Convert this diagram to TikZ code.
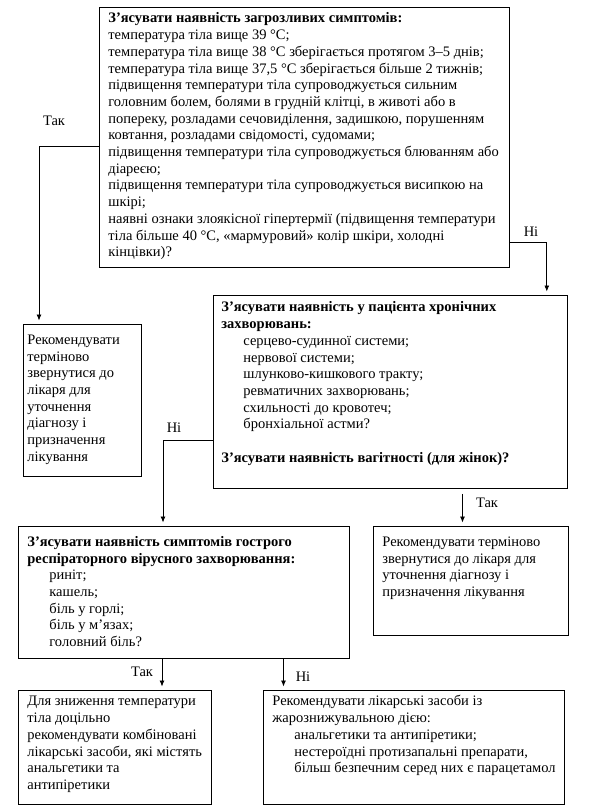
\documentclass[tikz,border=0pt]{standalone}
\usepackage{fontspec}
\setmainfont{Liberation Serif}
\usetikzlibrary{arrows.meta}
\tikzset{
  box/.style={draw, line width=0.8pt, anchor=north west, inner ysep=0pt, inner xsep=0pt,
    font=\fontsize{14.5}{16.7}\selectfont},
  lbl/.style={font=\fontsize{14.5}{16.7}\selectfont, inner sep=0pt},
  arr/.style={line width=0.8pt, -{Latex[length=6pt,width=5pt]}, shorten >=3.5pt},
}
% #1 left pad, #2 width, #3 height, #4 first baseline, #5 text
\newcommand{\bt}[5]{\hspace*{#1}\parbox[c][#3][t]{#2}{\raggedright\rule{0pt}{#4}#5}}
\newcommand{\ind}{\hspace*{22pt}}
\begin{document}
\begin{tikzpicture}[x=1pt,y=-1pt]
\useasboundingbox (0,0) rectangle (590,812);

\node[box] (top) at (99,7) {\bt{9pt}{401pt}{260pt}{15.5pt}{%
\textbf{З’ясувати наявність загрозливих симптомів:}\\
температура тіла вище 39 °С;\\
температура тіла вище 38 °С зберігається протягом 3–5 днів;\\
температура тіла вище 37,5 °С зберігається більше 2 тижнів;\\
підвищення температури тіла супроводжується сильним\\
головним болем, болями в грудній клітці, в животі або в\\
попереку, розладами сечовиділення, задишкою, порушенням\\
ковтання, розладами свідомості, судомами;\\
підвищення температури тіла супроводжується блюванням або\\
діареєю;\\
підвищення температури тіла супроводжується висипкою на\\
шкірі;\\
наявні ознаки злоякісної гіпертермії (підвищення температури\\
тіла більше 40 °С, «мармуровий» колір шкіри, холодні\\
кінцівки)?}};

\node[box] (lbox) at (23,324) {\bt{4pt}{114pt}{152pt}{20pt}{%
Рекомендувати\\терміново\\звернутися до\\лікаря для\\уточнення\\діагнозу і\\призначення\\лікування}};

\node[box] (mid) at (213,295) {\bt{8pt}{346pt}{193pt}{16.5pt}{%
\textbf{З’ясувати наявність у пацієнта хронічних}\\
\textbf{захворювань:}\\
\ind серцево-судинної системи;\\
\ind нервової системи;\\
\ind шлунково-кишкового тракту;\\
\ind ревматичних захворювань;\\
\ind схильності до кровотеч;\\
\ind бронхіальної астми?\\[16.7pt]
\textbf{З’ясувати наявність вагітності (для жінок)?}}};

\node[box] (grvi) at (18,526) {\bt{9pt}{322pt}{132pt}{20pt}{%
\textbf{З’ясувати наявність симптомів гострого}\\
\textbf{респіраторного вірусного захворювання:}\\
\ind риніт;\\
\ind кашель;\\
\ind біль у горлі;\\
\ind біль у м’язах;\\
\ind головний біль?}};

\node[box] (rbox) at (373,526) {\bt{9pt}{186pt}{109pt}{20pt}{%
Рекомендувати терміново\\звернутися до лікаря для\\уточнення діагнозу і\\призначення лікування}};

\node[box] (bl) at (18,690) {\bt{9pt}{184pt}{114pt}{15.5pt}{%
Для зниження температури\\тіла доцільно\\рекомендувати комбіновані\\лікарські засоби, які містять\\анальгетики та\\антипіретики}};

\node[box] (br) at (263,690) {\bt{9pt}{292pt}{114pt}{15.5pt}{%
Рекомендувати лікарські засоби із\\жарознижувальною дією:\\
\ind анальгетики та антипіретики;\\
\ind нестероїдні протизапальні препарати,\\
\ind більш безпечним серед них є парацетамол}};

% connectors
\draw[arr] ([yshift=-9pt]top.west) -| ([xshift=16pt]lbox.north west);
\draw[arr] ([yshift=25pt]top.south east) -| ([xshift=-21pt]mid.north east);
\draw[arr] ([yshift=48pt]mid.south west) -| ([xshift=145pt]grvi.north west);
\coordinate (t4) at ([xshift=249.5pt]mid.south west);
\draw[arr, shorten <=5pt] (t4) -- (t4 |- rbox.north);
\coordinate (t5) at ([xshift=144pt]grvi.south west);
\draw[arr] (t5) -- (t5 |- bl.north);
\coordinate (t6) at ([xshift=265.5pt]grvi.south west);
\draw[arr] (t6) -- (t6 |- br.north);

% labels
\node[lbl] (l1) at (54,121) {Так};
\node[lbl] (l2) at (531,232) {Ні};
\node[lbl] (l3) at (174,428) {Ні};
\node[lbl] (l4) at (487,503) {Так};
\node[lbl] (l5) at (142,672) {Так};
\node[lbl] (l6) at (303,677) {Ні};
\end{tikzpicture}
\end{document}
